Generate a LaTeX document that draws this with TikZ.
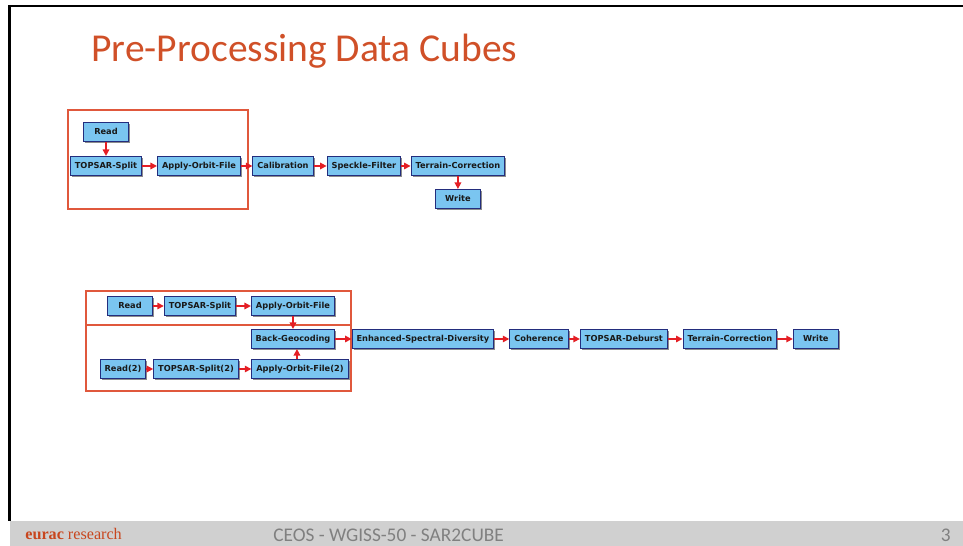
\documentclass[tikz,border=0pt]{standalone}
\usepackage{fontspec}
\setmainfont{DejaVu Sans}
\newfontfamily\titlefont{Carlito}
\newfontfamily\logofont{Liberation Serif}
\usetikzlibrary{arrows.meta,shadows}

\definecolor{boxblue}{RGB}{122,197,240}
\definecolor{boxline}{RGB}{35,45,125}
\definecolor{flowred}{RGB}{228,30,36}
\definecolor{framered}{RGB}{224,88,60}
\definecolor{titleorange}{RGB}{208,80,40}
\definecolor{footgray}{RGB}{208,208,208}
\definecolor{foottext}{RGB}{128,128,128}
\definecolor{euraccol}{RGB}{200,70,30}

\tikzset{
  opbox/.style={draw=boxline, line width=0.6pt, fill=boxblue,
    minimum height=0.38cm, minimum width=0.9cm, inner xsep=0.09cm, inner ysep=0pt,
    text height=3.6pt, text depth=1pt,
    font=\fontsize{4.7}{5.5}\selectfont\bfseries, text=black!90,
    drop shadow={shadow xshift=0.03cm, shadow yshift=-0.03cm, opacity=0.45, fill=black}},
  flow/.style={-{Triangle[length=0.13cm,width=0.13cm]}, draw=flowred, line width=0.03cm},
  groupbox/.style={draw=framered, line width=0.03cm},
  plaintext/.style={inner sep=0pt, anchor=base west}
}

\begin{document}
\begin{tikzpicture}[
  x=0.02cm, y=-0.02cm,
  node distance=1.8cm
]
\useasboundingbox (0,0) rectangle (963,546);

% Slide frame and footer
\fill[footgray] (10,521) rectangle (963,546);
\draw[line width=0.06cm] (9.5,5.5) -- (9.5,521);
\draw[line width=0.04cm] (8.5,6.5) -- (963,6.5);

\node[plaintext, text=titleorange, font=\titlefont\fontsize{22.5}{27}\selectfont] (title) at (91,62) {Pre-Processing Data Cubes};

\node[plaintext, text=euraccol, font=\logofont\fontsize{9.2}{11}\selectfont] (logo) at (25,540) {\textbf{eurac} research};
\node[plaintext, text=foottext, font=\titlefont\fontsize{11}{13}\selectfont] (event) at (273,541) {CEOS - WGISS-50 - SAR2CUBE};
\node[plaintext, anchor=base east, text=foottext, font=\titlefont\fontsize{11}{13}\selectfont] (pagenum) at (951,541) {3};

% Single scene graph
\draw[groupbox] (68,110) rectangle (248,209);
\node[opbox] (split1) at (106,166) {TOPSAR-Split};
\node[opbox, above of=split1, node distance=0.68cm] (read1) {Read};
\node[opbox, right of=split1, node distance=1.86cm] (orbit1) {Apply-Orbit-File};
\node[opbox, right of=orbit1, node distance=1.68cm] (calib) {Calibration};
\node[opbox, right of=calib, node distance=1.62cm] (speckle) {Speckle-Filter};
\node[opbox, right of=speckle, node distance=1.88cm] (terrain1) {Terrain-Correction};
\node[opbox, below of=terrain1, node distance=0.66cm] (write1) {Write};

\draw[flow] (read1) -- (split1);
\draw[flow] (split1) -- (orbit1);
\draw[flow] (orbit1) -- (calib);
\draw[flow] (calib) -- (speckle);
\draw[flow] (speckle) -- (terrain1);
\draw[flow] (terrain1) -- (write1);

% Interferometric pair graph
\draw[groupbox] (86,291) rectangle (351,325);
\draw[groupbox] (86,325) rectangle (351,391);
\node[opbox] (read_a) at (130,306) {Read};
\node[opbox, right of=read_a, node distance=1.40cm] (split_a) {TOPSAR-Split};
\node[opbox, right of=split_a, node distance=1.86cm] (orbit_a) {Apply-Orbit-File};
\node[opbox, below of=orbit_a, node distance=0.66cm] (geocode) {Back-Geocoding};
\node[opbox, right of=geocode, node distance=2.60cm] (esd) {Enhanced-Spectral-Diversity};
\node[opbox, right of=esd, node distance=2.32cm] (coh) {Coherence};
\node[opbox, right of=coh, node distance=1.70cm] (deburst) {TOPSAR-Deburst};
\node[opbox, right of=deburst, node distance=2.12cm] (terrain2) {Terrain-Correction};
\node[opbox, right of=terrain2, node distance=1.72cm] (write2) {Write};
\node[opbox] (read_b) at (123,369) {Read(2)};
\node[opbox, right of=read_b, node distance=1.46cm] (split_b) {TOPSAR-Split(2)};
\node[opbox, right of=split_b, node distance=2.08cm] (orbit_b) {Apply-Orbit-File(2)};

\draw[flow] (read_a) -- (split_a);
\draw[flow] (split_a) -- (orbit_a);
\draw[flow] (orbit_a) -- (geocode);
\draw[flow] (read_b) -- (split_b);
\draw[flow] (split_b) -- (orbit_b);
\draw[flow] ([xshift=-0.06cm]orbit_b.north) -- ([xshift=-0.06cm]orbit_b.north |- geocode.south);
\draw[flow] (geocode) -- (esd);
\draw[flow] (esd) -- (coh);
\draw[flow] (coh) -- (deburst);
\draw[flow] (deburst) -- (terrain2);
\draw[flow] (terrain2) -- (write2);
\end{tikzpicture}
\end{document}
